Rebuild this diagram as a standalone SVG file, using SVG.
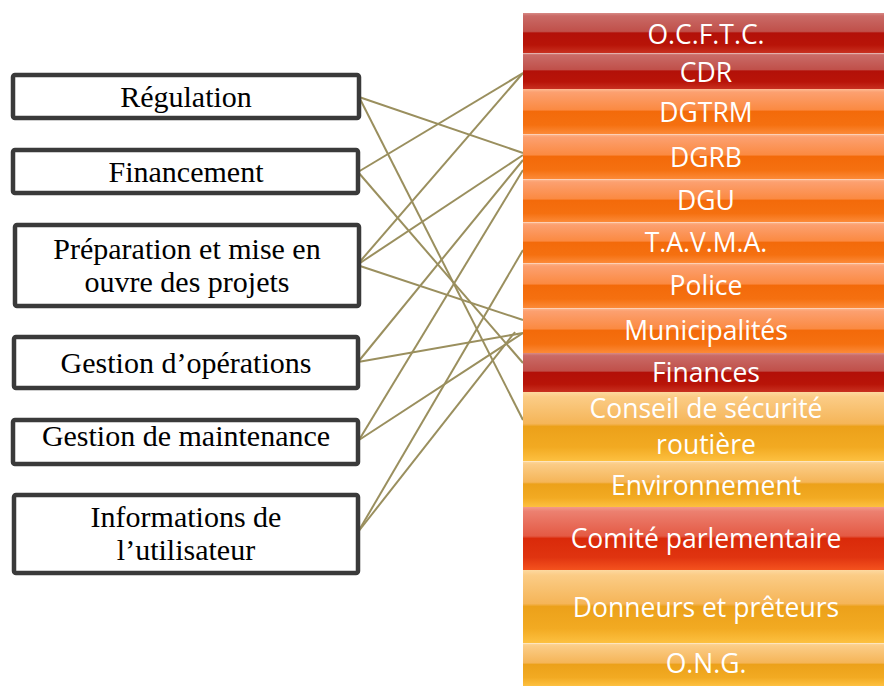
<svg xmlns="http://www.w3.org/2000/svg" width="884" height="686" viewBox="0 0 884 686">
<defs>
<linearGradient id="gRed" x1="0" y1="0" x2="0" y2="1">
<stop offset="0" stop-color="#d88a86"/><stop offset="0.07" stop-color="#c96a66"/><stop offset="0.46" stop-color="#c0504a"/><stop offset="0.5" stop-color="#b31008"/><stop offset="0.8" stop-color="#b81408"/><stop offset="1" stop-color="#c83020"/>
</linearGradient>
<linearGradient id="gOrange" x1="0" y1="0" x2="0" y2="1">
<stop offset="0" stop-color="#fdbb94"/><stop offset="0.07" stop-color="#fca070"/><stop offset="0.46" stop-color="#fb8a42"/><stop offset="0.5" stop-color="#f36a0a"/><stop offset="0.8" stop-color="#f57010"/><stop offset="1" stop-color="#fc8a38"/>
</linearGradient>
<linearGradient id="gYellow" x1="0" y1="0" x2="0" y2="1">
<stop offset="0" stop-color="#fdd9a0"/><stop offset="0.07" stop-color="#fbcc86"/><stop offset="0.46" stop-color="#f5b558"/><stop offset="0.5" stop-color="#eca11a"/><stop offset="0.8" stop-color="#f2aa22"/><stop offset="1" stop-color="#fdc040"/>
</linearGradient>
<linearGradient id="gComite" x1="0" y1="0" x2="0" y2="1">
<stop offset="0" stop-color="#f29a8a"/><stop offset="0.07" stop-color="#ec8070"/><stop offset="0.46" stop-color="#e45a44"/><stop offset="0.5" stop-color="#da2a0a"/><stop offset="0.8" stop-color="#e03410"/><stop offset="1" stop-color="#f4521e"/>
</linearGradient>
</defs>
<style>
.box{fill:#ffffff;stroke:#3a3a3a;stroke-width:4.5}
.lt{font-family:"Liberation Serif","Times New Roman",serif;font-size:30px;fill:#000;text-anchor:middle}
.conn{stroke:#9a8f5e;stroke-width:2;fill:none}
.bar{stroke:none}
.sep{stroke:#ffffff;stroke-opacity:0.35;stroke-width:1}
.bt{font-family:"Open Sans",Lato,sans-serif;font-size:26.5px;fill:#ffffff;text-anchor:middle}
</style>
<rect width="884" height="686" fill="#ffffff"/>

<g id="connectors">
<line class="conn" x1="359" y1="97" x2="523" y2="153"/>
<line class="conn" x1="359" y1="97" x2="523" y2="420"/>
<line class="conn" x1="358" y1="172" x2="523" y2="73"/>
<line class="conn" x1="358" y1="172" x2="523" y2="363"/>
<line class="conn" x1="357" y1="265" x2="523" y2="73"/>
<line class="conn" x1="357" y1="265" x2="523" y2="155"/>
<line class="conn" x1="357" y1="265" x2="523" y2="320"/>
<line class="conn" x1="358" y1="362" x2="523" y2="160"/>
<line class="conn" x1="358" y1="362" x2="523" y2="333"/>
<line class="conn" x1="359" y1="440" x2="523" y2="170"/>
<line class="conn" x1="359" y1="440" x2="523" y2="333"/>
<line class="conn" x1="358" y1="532" x2="523" y2="250"/>
<line class="conn" x1="358" y1="532" x2="515" y2="332"/>
</g>

<g id="regulation"><rect class="box" x="13" y="75" width="346" height="43" rx="2"/><text class="lt" x="186" y="107">Régulation</text></g>
<g id="financement"><rect class="box" x="13" y="150" width="345" height="43" rx="2"/><text class="lt" x="186" y="182">Financement</text></g>
<g id="preparation"><rect class="box" x="15" y="225" width="344" height="81" rx="2"/><text class="lt" x="187" y="259">Préparation et mise en</text><text class="lt" x="187" y="292">ouvre des projets</text></g>
<g id="operations"><rect class="box" x="14" y="337" width="344" height="51" rx="2"/><text class="lt" x="186" y="373">Gestion d’opérations</text></g>
<g id="maintenance"><rect class="box" x="13" y="420" width="345" height="44" rx="2"/><text class="lt" x="186" y="446">Gestion de maintenance</text></g>
<g id="informations"><rect class="box" x="14" y="495" width="344" height="78" rx="2"/><text class="lt" x="186" y="527">Informations de</text><text class="lt" x="186" y="560">l’utilisateur</text></g>

<g id="ocftc"><rect class="bar" x="523" y="13" width="361" height="40" fill="url(#gRed)"/><text class="bt" x="706" y="44">O.C.F.T.C.</text></g>
<g id="cdr"><rect class="bar" x="523" y="53" width="361" height="36" fill="url(#gRed)"/><line class="sep" x1="523" y1="53.5" x2="884" y2="53.5"/><text class="bt" x="706" y="82">CDR</text></g>
<g id="dgtrm"><rect class="bar" x="523" y="89" width="361" height="45" fill="url(#gOrange)"/><text class="bt" x="706" y="122">DGTRM</text></g>
<g id="dgrb"><rect class="bar" x="523" y="134" width="361" height="45" fill="url(#gOrange)"/><line class="sep" x1="523" y1="134.5" x2="884" y2="134.5"/><text class="bt" x="706" y="167">DGRB</text></g>
<g id="dgu"><rect class="bar" x="523" y="179" width="361" height="43" fill="url(#gOrange)"/><line class="sep" x1="523" y1="179.5" x2="884" y2="179.5"/><text class="bt" x="706" y="210">DGU</text></g>
<g id="tavma"><rect class="bar" x="523" y="222" width="361" height="41" fill="url(#gOrange)"/><line class="sep" x1="523" y1="222.5" x2="884" y2="222.5"/><text class="bt" x="706" y="252">T.A.V.M.A.</text></g>
<g id="police"><rect class="bar" x="523" y="263" width="361" height="45" fill="url(#gOrange)"/><line class="sep" x1="523" y1="263.5" x2="884" y2="263.5"/><text class="bt" x="706" y="295">Police</text></g>
<g id="municipalites"><rect class="bar" x="523" y="308" width="361" height="45" fill="url(#gOrange)"/><line class="sep" x1="523" y1="308.5" x2="884" y2="308.5"/><text class="bt" x="706" y="340">Municipalités</text></g>
<g id="finances"><rect class="bar" x="523" y="353" width="361" height="39" fill="url(#gRed)"/><text class="bt" x="706" y="382">Finances</text></g>
<g id="conseil"><rect class="bar" x="523" y="392" width="361" height="69" fill="url(#gYellow)"/><text class="bt" x="706" y="418">Conseil de sécurité</text><text class="bt" x="706" y="454">routière</text></g>
<g id="environnement"><rect class="bar" x="523" y="461" width="361" height="46" fill="url(#gYellow)"/><line class="sep" x1="523" y1="461.5" x2="884" y2="461.5"/><text class="bt" x="706" y="495">Environnement</text></g>
<g id="comite"><rect class="bar" x="523" y="507" width="361" height="63" fill="url(#gComite)" stroke="#e0401c" stroke-width="1"/><text class="bt" x="706" y="548">Comité parlementaire</text></g>
<g id="donneurs"><rect class="bar" x="523" y="570" width="361" height="73" fill="url(#gYellow)"/><text class="bt" x="706" y="617">Donneurs et prêteurs</text></g>
<g id="ong"><rect class="bar" x="523" y="643" width="361" height="43" fill="url(#gYellow)"/><line class="sep" x1="523" y1="643.5" x2="884" y2="643.5"/><text class="bt" x="706" y="673">O.N.G.</text></g>
</svg>
